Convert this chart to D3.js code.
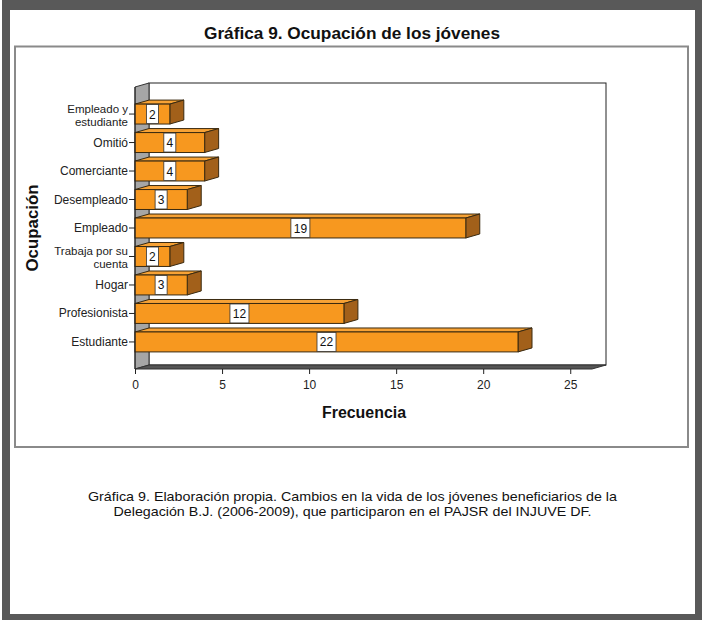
<!DOCTYPE html>
<html><head><meta charset="utf-8">
<script src="https://cdn.jsdelivr.net/npm/d3@7"></script>
<style>
html,body{margin:0;padding:0;background:#fff;}
svg{display:block;font-family:"Liberation Sans",Arial,sans-serif;}
</style></head>
<body>
<svg id="c" width="702" height="620"></svg>
<script>
const categories = ["Empleado y\nestudiante","Omitió","Comerciante","Desempleado","Empleado","Trabaja por su\ncuenta","Hogar","Profesionista","Estudiante"];
const values = [2,4,4,3,19,2,3,12,22];
const xTicks = [0,5,10,15,20,25];
const title = "Gráfica 9. Ocupación de los jóvenes";
const xTitle = "Frecuencia";
const yTitle = "Ocupación";
const caption = ["Gráfica 9. Elaboración propia.  Cambios en la vida de los jóvenes beneficiarios de la",
                 "Delegación B.J. (2006-2009), que participaron en el PAJSR del INJUVE DF."];

const FONT = "Liberation Sans, Arial, sans-serif";
const svg = d3.select("#c");
// outer frame
svg.append("rect").attr("x",0).attr("y",0).attr("width",702).attr("height",620).attr("fill","#fff");
svg.append("rect").attr("x",2).attr("y",0).attr("width",8).attr("height",620).attr("fill","#595959");
svg.append("rect").attr("x",2).attr("y",0).attr("width",700).attr("height",10).attr("fill","#595959");
svg.append("rect").attr("x",695).attr("y",0).attr("width",7).attr("height",620).attr("fill","#595959");
svg.append("rect").attr("x",2).attr("y",614).attr("width",700).attr("height",6).attr("fill","#595959");
// chart box
svg.append("rect").attr("x",15).attr("y",46.5).attr("width",673).attr("height",400.5)
  .attr("fill","#fff").attr("stroke","#8a8a8a").attr("stroke-width",2);

svg.append("text").attr("x",352).attr("y",39).attr("text-anchor","middle")
  .attr("font-family",FONT).attr("font-size",16.5).attr("font-weight","bold").attr("fill","#111")
  .attr("textLength",296).attr("lengthAdjust","spacingAndGlyphs").text(title);

const DX = 14, DY = -4;
const x = d3.scaleLinear().domain([0,26.25]).range([135,592]);
const y = d3.scaleBand().domain(categories).range([87,369]).paddingInner(0.3).paddingOuter(0.6);
const x0 = x(0), yTop = 87, yBot = 369, xEnd = x.range()[1];

// back wall
svg.append("rect").attr("x",x0+DX).attr("y",yTop+DY).attr("width",xEnd-x0).attr("height",yBot-yTop)
  .attr("fill","#fff").attr("stroke","#222").attr("stroke-width",1);
// left wall
svg.append("polygon").attr("points",[[x0,yTop],[x0+DX,yTop+DY],[x0+DX,yBot+DY],[x0,yBot]].join(" "))
  .attr("fill","#a6a6a6").attr("stroke","#333").attr("stroke-width",1);
// floor
svg.append("polygon").attr("points",[[x0,yBot],[x0+DX,yBot+DY],[xEnd+DX,yBot+DY],[xEnd,yBot]].join(" "))
  .attr("fill","#555").attr("stroke","#333").attr("stroke-width",1);

// bars
const bars = svg.append("g");
const bw = y.bandwidth();
categories.forEach((c,i)=>{
  const v = values[i], xv = x(v), yt = y(c), yb = yt + bw;
  const g = bars.append("g");
  g.append("polygon").attr("points",[[x0,yt],[x0+DX,yt+DY],[xv+DX,yt+DY],[xv,yt]].join(" "))
    .attr("fill","#f7a235").attr("stroke","#3a2a10").attr("stroke-width",1);
  g.append("polygon").attr("points",[[xv,yt],[xv+DX,yt+DY],[xv+DX,yb+DY],[xv,yb]].join(" "))
    .attr("fill","#a2601a").attr("stroke","#3a2a10").attr("stroke-width",1);
  g.append("rect").attr("x",x0).attr("y",yt).attr("width",xv-x0).attr("height",bw)
    .attr("fill","#f7981f").attr("stroke","#3a2a10").attr("stroke-width",1);
  const cx = (x0+xv)/2;
  const label = String(v);
  const w = label.length*7 + 5;
  g.append("rect").attr("x",cx-w/2).attr("y",yt+0.5).attr("width",w).attr("height",bw-1)
    .attr("fill","#fff").attr("stroke","#333").attr("stroke-width",0.8);
  g.append("text").attr("x",cx).attr("y",yt+bw/2+4.5).attr("text-anchor","middle")
    .attr("font-family",FONT).attr("font-size",12).attr("fill","#111").text(label);
});

// x axis
const xAxis = svg.append("g").attr("transform",`translate(0,${yBot})`)
  .call(d3.axisBottom(x).tickValues(xTicks).tickSize(5).tickPadding(6));
xAxis.selectAll(".tick line").attr("stroke","#222");
xAxis.selectAll(".tick text").attr("font-size",12).attr("fill","#222").attr("font-family",FONT);
xAxis.select(".domain").remove();

// y axis
const yAxis = svg.append("g").attr("transform",`translate(${x0},0)`)
  .call(d3.axisLeft(y).tickSize(6).tickPadding(3).tickFormat(""));
yAxis.select(".domain").attr("stroke","#222").attr("d",`M0,${yTop}V${yBot}`);
yAxis.selectAll(".tick line").attr("stroke","#222");
yAxis.selectAll(".tick").each(function(d){
  const lines = d.split("\n");
  const fs = lines.length===1 ? 12 : 11.5;
  const t = d3.select(this).select("text").attr("font-size",fs).attr("fill","#222")
    .attr("font-family",FONT).attr("dy",null).attr("x",-7);
  const lh = 13;
  const start = lines.length===1 ? 4 : -1.5;
  lines.forEach((l,k)=>{
    t.append("tspan").attr("x",-7).attr("y",start + k*lh).text(l);
  });
});

svg.append("text").attr("x",364).attr("y",418).attr("text-anchor","middle")
  .attr("font-family",FONT).attr("font-size",16).attr("font-weight","bold").attr("fill","#111")
  .attr("textLength",84).attr("lengthAdjust","spacingAndGlyphs").text(xTitle);
svg.append("text").attr("transform","translate(38,228) rotate(-90)").attr("text-anchor","middle")
  .attr("font-family",FONT).attr("font-size",16.5).attr("font-weight","bold").attr("fill","#111")
  .attr("textLength",87).attr("lengthAdjust","spacingAndGlyphs").text(yTitle);

const capLen = [529, 478];
caption.forEach((l,k)=>{
  svg.append("text").attr("x",352.5).attr("y",501+k*15).attr("text-anchor","middle")
    .attr("font-family",FONT).attr("font-size",13.5).attr("fill","#111")
    .attr("textLength",capLen[k]).attr("lengthAdjust","spacingAndGlyphs").text(l);
});
</script>
</body></html>
